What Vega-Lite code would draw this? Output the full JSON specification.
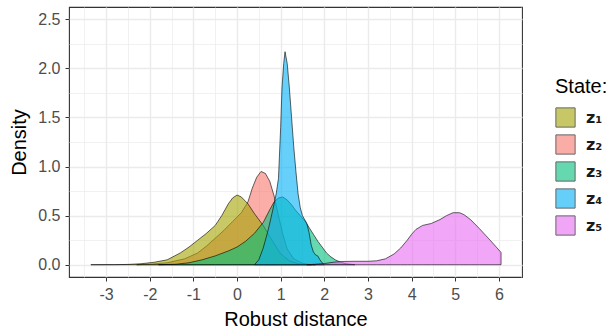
{
  "$schema": "https://vega.github.io/schema/vega-lite/v6.json",
  "width": 453,
  "height": 270,
  "autosize": {"type": "none"},
  "padding": {"left": 69, "top": 7, "right": 89, "bottom": 56},
  "background": "white",
  "config": {
    "view": {"stroke": "#333333", "strokeWidth": 1.1},
    "font": "Liberation Sans"
  },
  "data": {
    "values": [
      {"s": "z₂", "x": -2.3, "d": 0}, {"s": "z₂", "x": -2.0, "d": 0.005}, {"s": "z₂", "x": -1.6, "d": 0.02},
      {"s": "z₂", "x": -1.2, "d": 0.06}, {"s": "z₂", "x": -0.9, "d": 0.12}, {"s": "z₂", "x": -0.7, "d": 0.19},
      {"s": "z₂", "x": -0.5, "d": 0.27}, {"s": "z₂", "x": -0.3, "d": 0.35}, {"s": "z₂", "x": -0.1, "d": 0.44},
      {"s": "z₂", "x": 0.1, "d": 0.53}, {"s": "z₂", "x": 0.25, "d": 0.64}, {"s": "z₂", "x": 0.35, "d": 0.78},
      {"s": "z₂", "x": 0.45, "d": 0.89}, {"s": "z₂", "x": 0.55, "d": 0.95}, {"s": "z₂", "x": 0.65, "d": 0.93},
      {"s": "z₂", "x": 0.75, "d": 0.85}, {"s": "z₂", "x": 0.85, "d": 0.7}, {"s": "z₂", "x": 0.95, "d": 0.5},
      {"s": "z₂", "x": 1.05, "d": 0.31}, {"s": "z₂", "x": 1.15, "d": 0.16}, {"s": "z₂", "x": 1.3, "d": 0.06},
      {"s": "z₂", "x": 1.5, "d": 0.015}, {"s": "z₂", "x": 1.7, "d": 0},

      {"s": "z₁", "x": -3.35, "d": 0}, {"s": "z₁", "x": -2.8, "d": 0.001}, {"s": "z₁", "x": -2.5, "d": 0.003},
      {"s": "z₁", "x": -2.2, "d": 0.01}, {"s": "z₁", "x": -1.9, "d": 0.025}, {"s": "z₁", "x": -1.6, "d": 0.05},
      {"s": "z₁", "x": -1.3, "d": 0.12}, {"s": "z₁", "x": -1.1, "d": 0.18}, {"s": "z₁", "x": -0.9, "d": 0.25},
      {"s": "z₁", "x": -0.7, "d": 0.32}, {"s": "z₁", "x": -0.5, "d": 0.4}, {"s": "z₁", "x": -0.35, "d": 0.5},
      {"s": "z₁", "x": -0.2, "d": 0.62}, {"s": "z₁", "x": -0.1, "d": 0.68}, {"s": "z₁", "x": 0, "d": 0.71},
      {"s": "z₁", "x": 0.1, "d": 0.69}, {"s": "z₁", "x": 0.25, "d": 0.62}, {"s": "z₁", "x": 0.4, "d": 0.52},
      {"s": "z₁", "x": 0.6, "d": 0.4}, {"s": "z₁", "x": 0.8, "d": 0.25}, {"s": "z₁", "x": 1.0, "d": 0.11},
      {"s": "z₁", "x": 1.2, "d": 0.04}, {"s": "z₁", "x": 1.4, "d": 0.01}, {"s": "z₁", "x": 1.6, "d": 0.002},
      {"s": "z₁", "x": 1.8, "d": 0},

      {"s": "z₃", "x": -1.8, "d": 0}, {"s": "z₃", "x": -1.4, "d": 0.005}, {"s": "z₃", "x": -1.1, "d": 0.02},
      {"s": "z₃", "x": -0.8, "d": 0.05}, {"s": "z₃", "x": -0.5, "d": 0.09}, {"s": "z₃", "x": -0.2, "d": 0.14},
      {"s": "z₃", "x": 0, "d": 0.18}, {"s": "z₃", "x": 0.2, "d": 0.24}, {"s": "z₃", "x": 0.4, "d": 0.32},
      {"s": "z₃", "x": 0.6, "d": 0.43}, {"s": "z₃", "x": 0.75, "d": 0.56}, {"s": "z₃", "x": 0.85, "d": 0.64},
      {"s": "z₃", "x": 0.95, "d": 0.68}, {"s": "z₃", "x": 1.05, "d": 0.69}, {"s": "z₃", "x": 1.15, "d": 0.66},
      {"s": "z₃", "x": 1.25, "d": 0.61}, {"s": "z₃", "x": 1.35, "d": 0.55}, {"s": "z₃", "x": 1.45, "d": 0.5},
      {"s": "z₃", "x": 1.55, "d": 0.45}, {"s": "z₃", "x": 1.65, "d": 0.38}, {"s": "z₃", "x": 1.75, "d": 0.31},
      {"s": "z₃", "x": 1.85, "d": 0.24}, {"s": "z₃", "x": 1.95, "d": 0.18}, {"s": "z₃", "x": 2.05, "d": 0.12},
      {"s": "z₃", "x": 2.15, "d": 0.08}, {"s": "z₃", "x": 2.25, "d": 0.05}, {"s": "z₃", "x": 2.35, "d": 0.03},
      {"s": "z₃", "x": 2.5, "d": 0.01}, {"s": "z₃", "x": 2.7, "d": 0},

      {"s": "z₄", "x": 0.4, "d": 0}, {"s": "z₄", "x": 0.5, "d": 0.05}, {"s": "z₄", "x": 0.6, "d": 0.17},
      {"s": "z₄", "x": 0.7, "d": 0.33}, {"s": "z₄", "x": 0.78, "d": 0.48}, {"s": "z₄", "x": 0.85, "d": 0.62},
      {"s": "z₄", "x": 0.9, "d": 0.73}, {"s": "z₄", "x": 0.95, "d": 0.88}, {"s": "z₄", "x": 1.0, "d": 1.4},
      {"s": "z₄", "x": 1.03, "d": 1.8}, {"s": "z₄", "x": 1.07, "d": 2.05}, {"s": "z₄", "x": 1.1, "d": 2.17},
      {"s": "z₄", "x": 1.15, "d": 2.05}, {"s": "z₄", "x": 1.2, "d": 1.8}, {"s": "z₄", "x": 1.25, "d": 1.5},
      {"s": "z₄", "x": 1.3, "d": 1.2}, {"s": "z₄", "x": 1.35, "d": 0.95}, {"s": "z₄", "x": 1.4, "d": 0.72},
      {"s": "z₄", "x": 1.45, "d": 0.58}, {"s": "z₄", "x": 1.5, "d": 0.5}, {"s": "z₄", "x": 1.6, "d": 0.42},
      {"s": "z₄", "x": 1.65, "d": 0.33}, {"s": "z₄", "x": 1.7, "d": 0.2}, {"s": "z₄", "x": 1.75, "d": 0.13},
      {"s": "z₄", "x": 1.8, "d": 0.1}, {"s": "z₄", "x": 1.85, "d": 0.09}, {"s": "z₄", "x": 1.9, "d": 0.05},
      {"s": "z₄", "x": 1.95, "d": 0.02}, {"s": "z₄", "x": 2.0, "d": 0},

      {"s": "z₅", "x": 1.6, "d": 0}, {"s": "z₅", "x": 1.8, "d": 0.005}, {"s": "z₅", "x": 2.0, "d": 0.012},
      {"s": "z₅", "x": 2.2, "d": 0.025}, {"s": "z₅", "x": 2.4, "d": 0.033}, {"s": "z₅", "x": 2.7, "d": 0.035},
      {"s": "z₅", "x": 3.0, "d": 0.035}, {"s": "z₅", "x": 3.2, "d": 0.04}, {"s": "z₅", "x": 3.4, "d": 0.06},
      {"s": "z₅", "x": 3.6, "d": 0.11}, {"s": "z₅", "x": 3.75, "d": 0.17}, {"s": "z₅", "x": 3.9, "d": 0.25},
      {"s": "z₅", "x": 4.0, "d": 0.31}, {"s": "z₅", "x": 4.1, "d": 0.36}, {"s": "z₅", "x": 4.25, "d": 0.4},
      {"s": "z₅", "x": 4.45, "d": 0.42}, {"s": "z₅", "x": 4.65, "d": 0.46}, {"s": "z₅", "x": 4.8, "d": 0.5},
      {"s": "z₅", "x": 4.95, "d": 0.53}, {"s": "z₅", "x": 5.1, "d": 0.53}, {"s": "z₅", "x": 5.2, "d": 0.51},
      {"s": "z₅", "x": 5.35, "d": 0.46}, {"s": "z₅", "x": 5.55, "d": 0.37}, {"s": "z₅", "x": 5.8, "d": 0.25},
      {"s": "z₅", "x": 6.05, "d": 0.125}
    ]
  },
  "mark": {"type": "area", "fillOpacity": 0.6, "stroke": "black", "strokeWidth": 0.6, "clip": true},
  "encoding": {
    "x": {
      "field": "x", "type": "quantitative",
      "scale": {"domain": [-3.85, 6.53], "nice": false, "zero": false},
      "axis": {
        "title": "Robust distance",
        "values": [-3.5, -3, -2.5, -2, -1.5, -1, -0.5, 0, 0.5, 1, 1.5, 2, 2.5, 3, 3.5, 4, 4.5, 5, 5.5, 6, 6.5],
        "labelExpr": "datum.value % 1 == 0 ? '' + datum.value : ''",
        "domain": false,
        "grid": true,
        "gridColor": "#EBEBEB",
        "gridWidth": {"condition": {"test": "datum.value % 1 == 0", "value": 1.4}, "value": 0.7},
        "tickColor": {"condition": {"test": "datum.value % 1 == 0", "value": "#333333"}, "value": "transparent"},
        "tickSize": 4,
        "tickWidth": 1,
        "labelColor": "#4D4D4D",
        "labelFontSize": 16,
        "labelPadding": 5,
        "labelOverlap": false,
        "labelFlush": false,
        "titleFontSize": 20,
        "titleFontWeight": "normal",
        "titleColor": "black",
        "titlePadding": 7
      }
    },
    "y": {
      "field": "d", "type": "quantitative", "stack": null,
      "scale": {"domain": [-0.125, 2.625], "nice": false, "zero": false},
      "axis": {
        "title": "Density",
        "values": [0, 0.25, 0.5, 0.75, 1, 1.25, 1.5, 1.75, 2, 2.25, 2.5],
        "labelExpr": "(datum.value * 2) % 1 == 0 ? format(datum.value, '.1f') : ''",
        "domain": false,
        "grid": true,
        "gridColor": "#EBEBEB",
        "gridWidth": {"condition": {"test": "(datum.value * 2) % 1 == 0", "value": 1.4}, "value": 0.7},
        "tickColor": {"condition": {"test": "(datum.value * 2) % 1 == 0", "value": "#333333"}, "value": "transparent"},
        "tickSize": 4,
        "tickWidth": 1,
        "labelColor": "#4D4D4D",
        "labelFontSize": 16,
        "labelPadding": 5,
        "labelOverlap": false,
        "labelFlush": false,
        "titleFontSize": 20,
        "titleFontWeight": "normal",
        "titleColor": "black",
        "titlePadding": 8
      }
    },
    "y2": {"datum": 0},
    "color": {
      "field": "s", "type": "nominal",
      "scale": {"domain": ["z₁", "z₂", "z₃", "z₄", "z₅"], "range": ["#A3A500", "#F8766D", "#00BF7D", "#00B0F6", "#E76BF3"]},
      "legend": {
        "title": "State:",
        "orient": "none",
        "legendX": 486,
        "legendY": 70,
        "titleFontSize": 20,
        "titleFontWeight": "normal",
        "titleColor": "black",
        "titlePadding": 10,
        "symbolType": "square",
        "symbolSize": 370,
        "symbolStrokeColor": "#000000",
        "symbolStrokeWidth": 1,
        "symbolOpacity": 0.6,
        "rowPadding": 2,
        "labelFont": "DejaVu Sans",
        "labelFontSize": 16,
        "labelFontWeight": "bold",
        "labelColor": "#1a1a1a",
        "labelOffset": 10
      }
    }
  }
}
